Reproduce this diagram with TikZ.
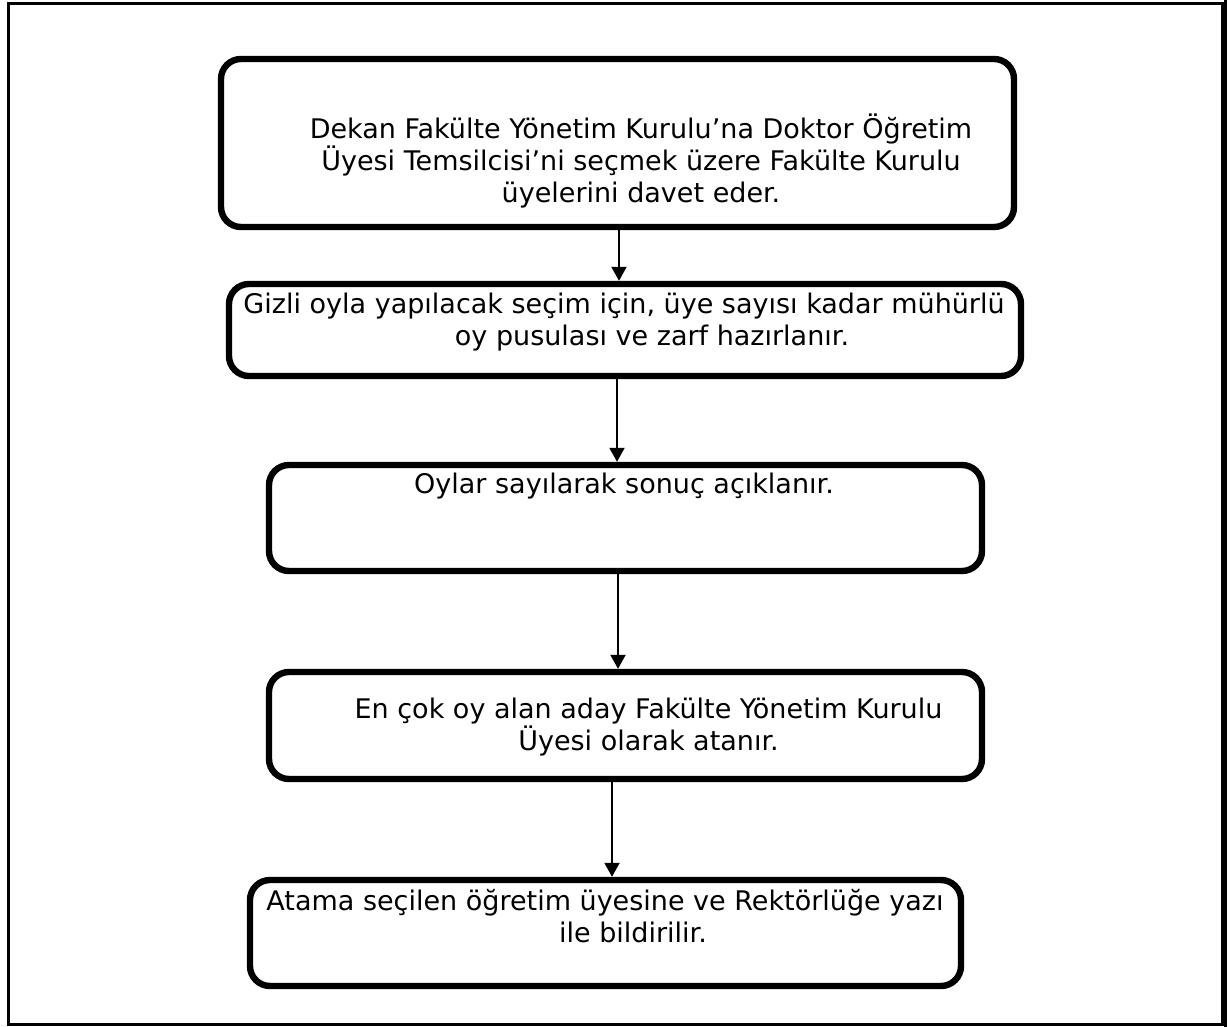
\documentclass[tikz,border=0pt]{standalone}
\usepackage{fontspec}
\setmainfont{DejaVu Sans}
\usetikzlibrary{arrows.meta}
\tikzset{
  box/.style={draw,rounded corners=10pt,line width=3.2pt,inner sep=0pt},
  txt/.style={align=center,anchor=base,font=\fontsize{13.5pt}{16pt}\selectfont},
  arr/.style={-{Triangle[length=7pt,width=7.5pt]},line width=1pt}
}
\begin{document}
\begin{tikzpicture}[x=0.5pt,y=-0.5pt]
    \useasboundingbox (0,0) rectangle (1231,1027);
    % frame
    \draw[line width=1.5pt] (8,4) rectangle (1222,1024);
    \draw[line width=1.3pt] (1225.5,0) -- (1225.5,1027);
    % boxes
    \node[box,minimum width=396.5pt,minimum height=84pt] (b1) at (617.5,143) {};
    \node[box,minimum width=396pt,minimum height=46pt] (b2) at (625,330) {};
    \node[box,minimum width=356.5pt,minimum height=53pt] (b3) at (625.5,518) {};
    \node[box,minimum width=356.5pt,minimum height=53.5pt] (b4) at (625.5,725.5) {};
    \node[box,minimum width=355.5pt,minimum height=53pt] (b5) at (605.5,933) {};
    % texts (anchor base = last line)
    \node[txt] (t1) at (641,203) {Dekan Fakülte Yönetim Kurulu’na Doktor Öğretim\\Üyesi Temsilcisi’ni seçmek üzere Fakülte Kurulu\\üyelerini davet eder.};
    \node[txt] (t2) at (652,345) {Gizli oyla yapılacak seçim için, üye sayısı kadar mühürlü\hspace*{28pt}\\oy pusulası ve zarf hazırlanır.};
    \node[txt] (t3) at (624,493) {Oylar sayılarak sonuç açıklanır.};
    \node[txt] (t4) at (648.5,750) {En çok oy alan aday Fakülte Yönetim Kurulu\\Üyesi olarak atanır.};
    \node[txt] (t5) at (633,942) {Atama seçilen öğretim üyesine ve Rektörlüğe yazı\hspace*{28pt}\\ile bildirilir.};
    % arrows
    \draw[arr] (b1.south -| 619,0) -- (b2.north -| 619,0);
    \draw[arr] (b2.south -| 617,0) -- (b3.north -| 617,0);
    \draw[arr] (b3.south -| 618,0) -- (b4.north -| 618,0);
    \draw[arr] (b4.south -| 612,0) -- (b5.north -| 612,0);
\end{tikzpicture}
\end{document}
